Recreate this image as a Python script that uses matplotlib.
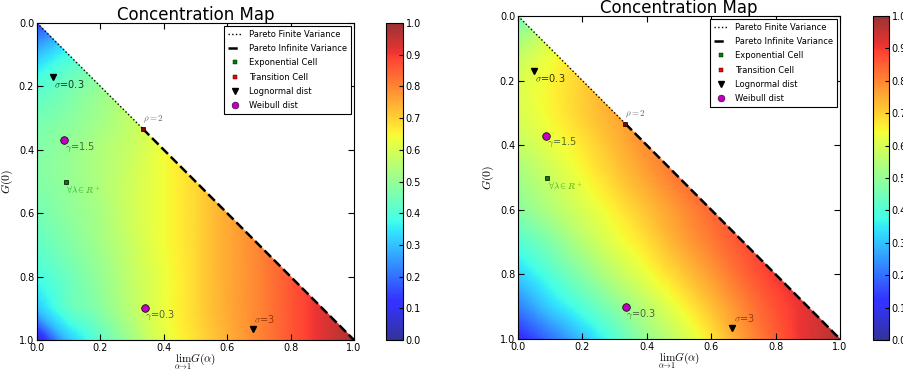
import numpy as np
import matplotlib
matplotlib.use("Agg")
import matplotlib.pyplot as plt
import matplotlib.tri as mtri
from matplotlib.colors import ListedColormap
from matplotlib.lines import Line2D

plt.rcParams['mathtext.fontset'] = 'cm'
plt.rcParams['font.family'] = ['DejaVu Sans']

# grid nodes: x = lim G(alpha), y = G(0), only x <= y (step 0.1)
grid_step = 0.1

# concentration values, one row per G(0) level
# row k holds x = 0, 0.1, ..., k*0.1
left_rows = [
    [0.15],
    [0.30, 0.38],
    [0.40, 0.45, 0.50],
    [0.45, 0.48, 0.52, 0.57],
    [0.47, 0.50, 0.54, 0.58, 0.64],
    [0.47, 0.50, 0.54, 0.59, 0.64, 0.69],
    [0.45, 0.49, 0.53, 0.59, 0.64, 0.69, 0.75],
    [0.42, 0.47, 0.52, 0.58, 0.64, 0.69, 0.75, 0.80],
    [0.38, 0.44, 0.50, 0.57, 0.63, 0.69, 0.75, 0.80, 0.86],
    [0.30, 0.42, 0.48, 0.56, 0.63, 0.69, 0.75, 0.80, 0.86, 0.92],
    [0.05, 0.30, 0.42, 0.52, 0.62, 0.68, 0.74, 0.80, 0.86, 0.92, 0.98],
]
right_rows = [
    [0.45],
    [0.55, 0.62],
    [0.60, 0.65, 0.70],
    [0.60, 0.65, 0.70, 0.75],
    [0.57, 0.62, 0.67, 0.73, 0.79],
    [0.52, 0.58, 0.64, 0.70, 0.76, 0.82],
    [0.48, 0.54, 0.60, 0.66, 0.72, 0.78, 0.84],
    [0.40, 0.47, 0.55, 0.62, 0.68, 0.75, 0.81, 0.87],
    [0.32, 0.40, 0.48, 0.56, 0.63, 0.70, 0.77, 0.84, 0.90],
    [0.22, 0.32, 0.40, 0.48, 0.56, 0.64, 0.72, 0.80, 0.87, 0.92],
    [0.10, 0.20, 0.30, 0.40, 0.50, 0.58, 0.67, 0.77, 0.85, 0.92, 0.97],
]

# reference distributions (x, y) for each panel
left_lognormal = [(0.05, 0.17), (0.68, 0.965)]
left_weibull = [(0.085, 0.37), (0.34, 0.90)]
right_lognormal = [(0.05, 0.17), (0.665, 0.965)]
right_weibull = [(0.087, 0.37), (0.335, 0.90)]
exponential_pt = (0.09, 0.50)
transition_pt = (1 / 3, 1 / 3)

lognormal_labels = [r'$\sigma$=0.3', r'$\sigma$=3']
weibull_labels = [r'$\gamma$=1.5', r'$\gamma$=0.3']
ticks = [0.0, 0.2, 0.4, 0.6, 0.8, 1.0]
cbar_ticks = [round(0.1 * i, 1) for i in range(11)]

# jet seen through alpha 0.8 on white
_jet = plt.get_cmap('jet')(np.linspace(0, 1, 256))[:, :3]
faded_jet = ListedColormap(0.8 * _jet + 0.2)


def draw_panel(fig, rect, crect, rows, logn, weib):
    ax = fig.add_axes(rect)
    cax = fig.add_axes(crect)

    xs, ys, vs = [], [], []
    for k, row in enumerate(rows):
        for j, v in enumerate(row):
            xs.append(j * grid_step)
            ys.append(k * grid_step)
            vs.append(v)
    tri = mtri.Triangulation(xs, ys)
    refiner = mtri.UniformTriRefiner(tri)
    interp = mtri.CubicTriInterpolator(tri, np.array(vs), kind='geom')
    tri_f, v_f = refiner.refine_field(np.array(vs), triinterpolator=interp, subdiv=4)
    v_f = np.clip(v_f, 0, 1)
    m = ax.tripcolor(tri_f, v_f, shading='gouraud', cmap=faded_jet, vmin=0, vmax=1,
                     rasterized=True)

    ax.plot([0, 1 / 3], [0, 1 / 3], ':', color='k', lw=1.0)
    ax.plot([1 / 3, 1], [1 / 3, 1], '--', color='k', lw=1.8)

    ax.plot(*exponential_pt, 's', color='green', mec='k', mew=0.5, ms=3.5)
    ax.plot(*transition_pt, 's', color='darkred', mec='k', mew=0.5, ms=3.5)
    for (px, py) in logn:
        ax.plot(px, py, 'v', color='k', ms=5)
    for (px, py) in weib:
        ax.plot(px, py, 'o', color='m', mec='k', mew=0.5, ms=5.5)

    ax.text(logn[0][0] + 0.003, logn[0][1] + 0.022, lognormal_labels[0], fontsize=7,
            va='center', ha='left', color='k', alpha=0.8)
    ax.text(logn[1][0] + 0.005, logn[1][1] - 0.03, lognormal_labels[1], fontsize=7,
            va='center', ha='left', color='#7a2a00', alpha=0.8)
    ax.text(weib[0][0] + 0.003, weib[0][1] + 0.022, weibull_labels[0], fontsize=7,
            va='center', ha='left', color='#2a4a2a', alpha=0.8)
    ax.text(weib[1][0] + 0.0, weib[1][1] + 0.022, weibull_labels[1], fontsize=7,
            va='center', ha='left', color='#3a3a2a', alpha=0.8)
    ax.text(exponential_pt[0] + 0.003, exponential_pt[1] + 0.028, r'$\forall \lambda \in R^+$',
            fontsize=6.5, va='center', ha='left', color='green', alpha=0.7)
    ax.text(transition_pt[0] + 0.0, transition_pt[1] - 0.03, r'$\rho=2$', fontsize=6.5,
            va='center', ha='left', color='k', alpha=0.6)

    handles = [
        Line2D([], [], ls=':', color='k', lw=1.0),
        Line2D([], [], ls='--', color='k', lw=1.8),
        Line2D([], [], ls='none', marker='s', color='green', mec='k', mew=0.3, ms=3.5),
        Line2D([], [], ls='none', marker='s', color='red', mec='k', mew=0.3, ms=3.5),
        Line2D([], [], ls='none', marker='v', color='k', ms=5),
        Line2D([], [], ls='none', marker='o', color='m', mec='k', mew=0.3, ms=5),
    ]
    names = ['Pareto Finite Variance', 'Pareto Infinite Variance', 'Exponential Cell',
             'Transition Cell', 'Lognormal dist', 'Weibull dist']
    leg = ax.legend(handles, names, loc='upper right', fontsize=6, numpoints=1,
                    fancybox=False, framealpha=1, edgecolor='k', handlelength=1.6,
                    labelspacing=0.62, borderpad=0.45, borderaxespad=0.4, handletextpad=0.9)
    leg.get_frame().set_linewidth(0.8)

    ax.set_xlim(0, 1)
    ax.set_ylim(1, 0)
    ax.set_xticks(ticks)
    ax.set_yticks(ticks)
    ax.tick_params(direction='in', top=True, right=True, labelsize=7, length=4, pad=2)
    ax.set_xlabel(r'$\lim_{\alpha\to 1}G(\alpha)$', fontsize=8, labelpad=-1)
    ax.set_ylabel(r'$G(0)$', fontsize=8.5, labelpad=3)
    ax.set_title('Concentration Map', fontsize=12, pad=2)

    cb = fig.colorbar(m, cax=cax, ticks=cbar_ticks)
    cb.ax.tick_params(labelsize=7, direction='in', length=3, pad=2)
    return ax


W, H = 904, 373
fig = plt.figure(figsize=(W / 100, H / 100), dpi=100)


def r(x0, x1, y0, y1):
    return [x0 / W, 1 - y1 / H, (x1 - x0) / W, (y1 - y0) / H]


draw_panel(fig, r(37, 354, 23, 340), r(386, 403, 23, 340), left_rows, left_lognormal, left_weibull)
draw_panel(fig, r(518, 840, 16, 339), r(873, 889, 16, 340), right_rows, right_lognormal, right_weibull)

fig.savefig('out.png', dpi=100)
